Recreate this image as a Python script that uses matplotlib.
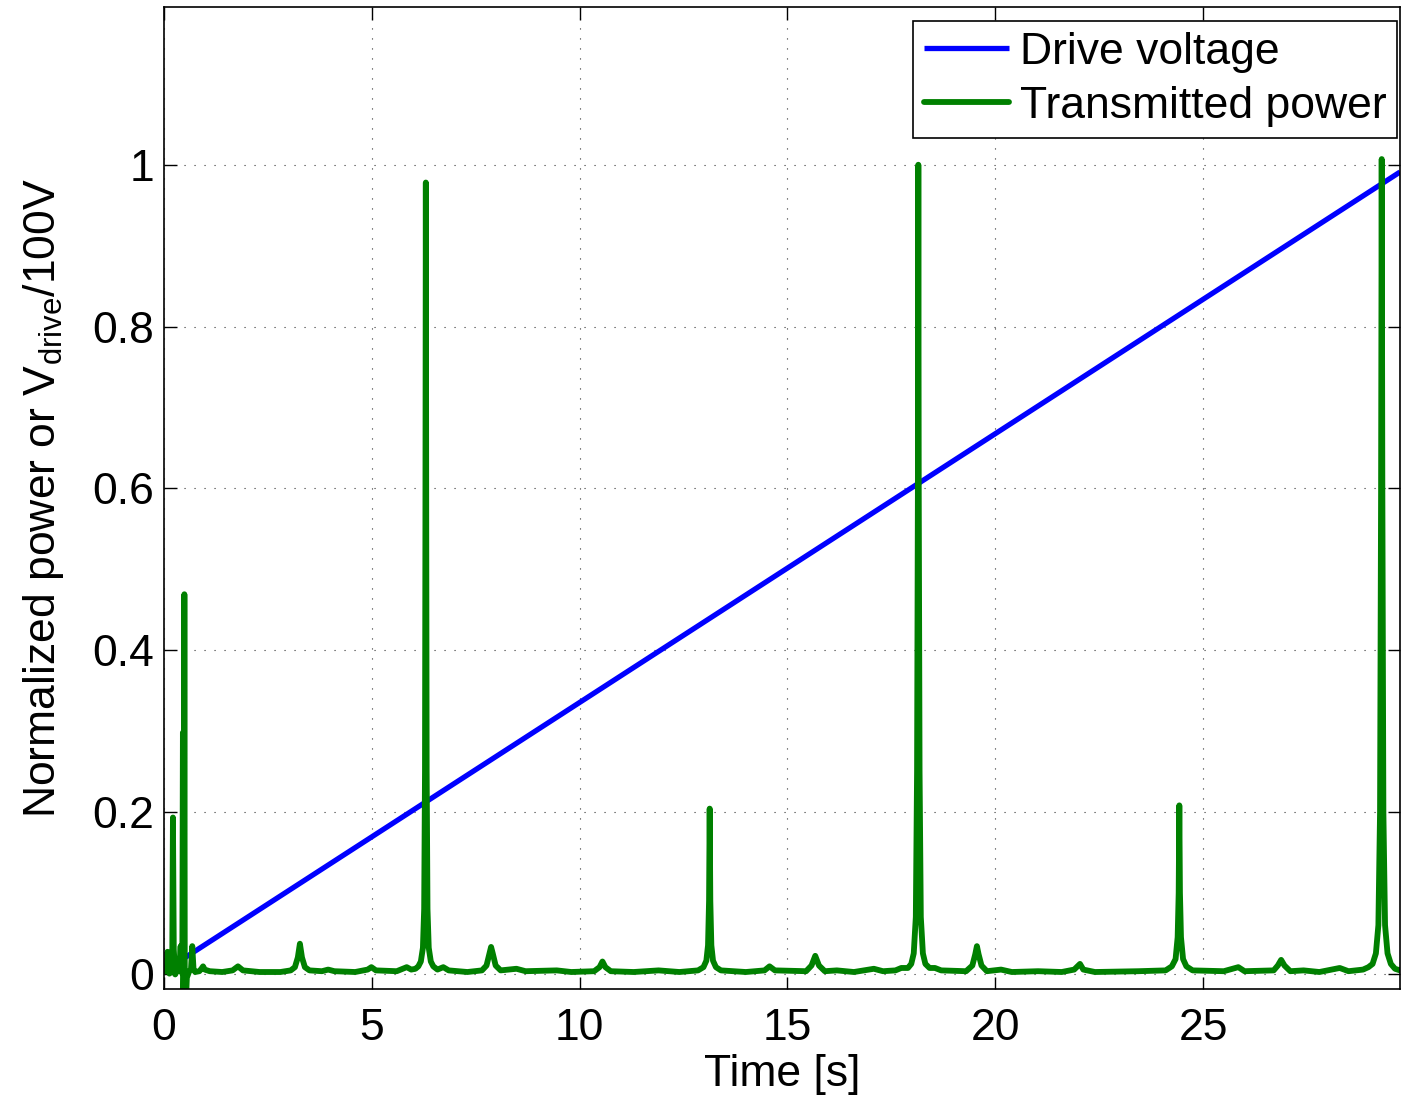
import matplotlib
matplotlib.use('Agg')
import matplotlib.pyplot as plt
import numpy as np

plt.rcParams['font.family'] = ['Liberation Sans', 'DejaVu Sans']
plt.rcParams['mathtext.fontset'] = 'custom'
plt.rcParams['mathtext.rm'] = 'Liberation Sans'
plt.rcParams['mathtext.it'] = 'Liberation Sans:italic'

# drive ramp (V/100V) at start and end of the sweep
t_drive = [0.0, 29.74]
v_drive = [0.003, 0.991]

# transmitted power trace, normalized
t_power = [
    0.00, 0.04, 0.07, 0.085, 0.10, 0.13, 0.17, 0.20, 0.215, 0.235,
    0.27, 0.31, 0.34, 0.37, 0.40, 0.42, 0.44, 0.455, 0.465, 0.48,
    0.49, 0.50, 0.53, 0.55, 0.60, 0.65, 0.68, 0.71, 0.75, 0.85,
    0.90, 0.94, 0.98, 1.10, 1.40, 1.65, 1.78, 1.90, 2.30, 2.80,
    3.05, 3.15, 3.22, 3.27, 3.32, 3.39, 3.50, 3.80, 3.95, 4.10,
    4.60, 4.90, 4.99, 5.10, 5.60, 5.84, 5.95, 6.05, 6.12, 6.18,
    6.23, 6.26, 6.28, 6.29, 6.30, 6.31, 6.32, 6.34, 6.37, 6.42,
    6.48, 6.58, 6.72, 6.85, 7.30, 7.65, 7.76, 7.83, 7.87, 7.91,
    7.98, 8.10, 8.48, 8.70, 9.45, 9.80, 10.35, 10.48, 10.55, 10.62,
    10.75, 11.30, 11.90, 12.40, 12.85, 12.98, 13.05, 13.09, 13.115, 13.13,
    13.145, 13.17, 13.21, 13.28, 13.40, 14.00, 14.45, 14.57, 14.70, 15.45,
    15.58, 15.67, 15.76, 15.90, 16.19, 16.60, 17.08, 17.30, 17.60, 17.74,
    17.90, 17.98, 18.04, 18.09, 18.12, 18.14, 18.15, 18.16, 18.18, 18.21,
    18.26, 18.32, 18.42, 18.55, 18.70, 19.30, 19.45, 19.52, 19.56, 19.60,
    19.67, 19.80, 20.14, 20.40, 21.03, 21.60, 21.90, 22.04, 22.12, 22.40,
    23.45, 24.10, 24.25, 24.34, 24.39, 24.415, 24.43, 24.445, 24.47, 24.52,
    24.60, 24.75, 25.50, 25.85, 26.00, 26.70, 26.80, 26.88, 26.96, 27.10,
    27.42, 27.80, 28.29, 28.50, 28.85, 28.98, 29.08, 29.16, 29.22, 29.26,
    29.285, 29.30, 29.315, 29.34, 29.38, 29.44, 29.52, 29.62, 29.74,
]
p_power = [
    0.002, 0.004, 0.010, 0.027, 0.008, 0.000, 0.004, 0.030, 0.193, 0.030,
    -0.001, 0.004, 0.003, 0.008, 0.034, 0.006, 0.000, 0.298, -0.030, 0.020,
    0.469, -0.030, -0.030, -0.005, 0.002, 0.006, 0.034, 0.006, 0.002, 0.003,
    0.006, 0.009, 0.005, 0.003, 0.002, 0.004, 0.009, 0.004, 0.002, 0.002,
    0.004, 0.008, 0.020, 0.037, 0.020, 0.008, 0.004, 0.003, 0.005, 0.003,
    0.002, 0.005, 0.008, 0.004, 0.003, 0.008, 0.005, 0.006, 0.009, 0.015,
    0.032, 0.080, 0.250, 0.550, 0.978, 0.550, 0.250, 0.080, 0.032, 0.015,
    0.009, 0.005, 0.008, 0.004, 0.002, 0.004, 0.010, 0.025, 0.033, 0.025,
    0.010, 0.004, 0.006, 0.003, 0.004, 0.002, 0.003, 0.008, 0.015, 0.008,
    0.003, 0.002, 0.004, 0.002, 0.004, 0.008, 0.016, 0.035, 0.090, 0.204,
    0.090, 0.035, 0.016, 0.008, 0.004, 0.002, 0.004, 0.009, 0.004, 0.003,
    0.010, 0.022, 0.010, 0.003, 0.004, 0.002, 0.006, 0.003, 0.004, 0.007,
    0.007, 0.012, 0.025, 0.070, 0.250, 0.600, 1.000, 0.600, 0.250, 0.070,
    0.025, 0.012, 0.007, 0.007, 0.004, 0.003, 0.010, 0.024, 0.034, 0.024,
    0.010, 0.003, 0.005, 0.002, 0.003, 0.002, 0.005, 0.012, 0.005, 0.002,
    0.003, 0.004, 0.009, 0.018, 0.045, 0.100, 0.208, 0.100, 0.045, 0.018,
    0.009, 0.004, 0.003, 0.008, 0.003, 0.004, 0.010, 0.017, 0.010, 0.003,
    0.004, 0.002, 0.007, 0.003, 0.005, 0.008, 0.012, 0.025, 0.060, 0.200,
    0.600, 1.007, 0.600, 0.200, 0.060, 0.025, 0.012, 0.006, 0.004,
]

x_ticks = [0, 5, 10, 15, 20, 25]
y_ticks = [0, 0.2, 0.4, 0.6, 0.8, 1.0]

W, H = 1401, 1095
fig = plt.figure(figsize=(W / 100, H / 100), dpi=100)
ax = fig.add_axes([164 / W, (H - 989) / H, (1400 - 164) / W, (989 - 7) / H])

ax.plot(t_drive, v_drive, color=(0, 0, 1), lw=3.8, label='Drive voltage',
        solid_capstyle='butt')
ax.plot(t_power, p_power, color=(0, 0.5, 0), lw=4.2, label='Transmitted power',
        solid_joinstyle='round', solid_capstyle='round')

ax.set_xlim(0, 29.74)
ax.set_ylim(-0.019, 1.195)
ax.set_xticks(x_ticks)
ax.set_yticks(y_ticks)
ax.set_yticklabels([f'{v:g}' for v in y_ticks])

ax.grid(True, linestyle=(0, (1, 8)), color='0.2', lw=0.8)
ax.tick_params(direction='in', length=9, width=1.0, top=True, right=True,
               labelsize=32, colors='k')
ax.tick_params(axis='x', pad=14)
ax.tick_params(axis='y', pad=7)
for s in ax.spines.values():
    s.set_linewidth(1.2)

ax.set_xlabel('Time [s]', fontsize=32, labelpad=3)
ax.set_ylabel(r'Normalized power or V$_{\mathrm{drive}}$/100V', fontsize=32, labelpad=19)

leg = ax.legend(loc='upper right', bbox_to_anchor=(1397 / W, (H - 21) / H),
                bbox_transform=fig.transFigure, fontsize=32, handlelength=1.9,
                handletextpad=0.25, borderpad=0.24, labelspacing=0.3,
                borderaxespad=0, fancybox=False, framealpha=1)
leg.get_frame().set_edgecolor('k')
leg.get_frame().set_linewidth(1.2)

fig.savefig('out.png', dpi=100)
